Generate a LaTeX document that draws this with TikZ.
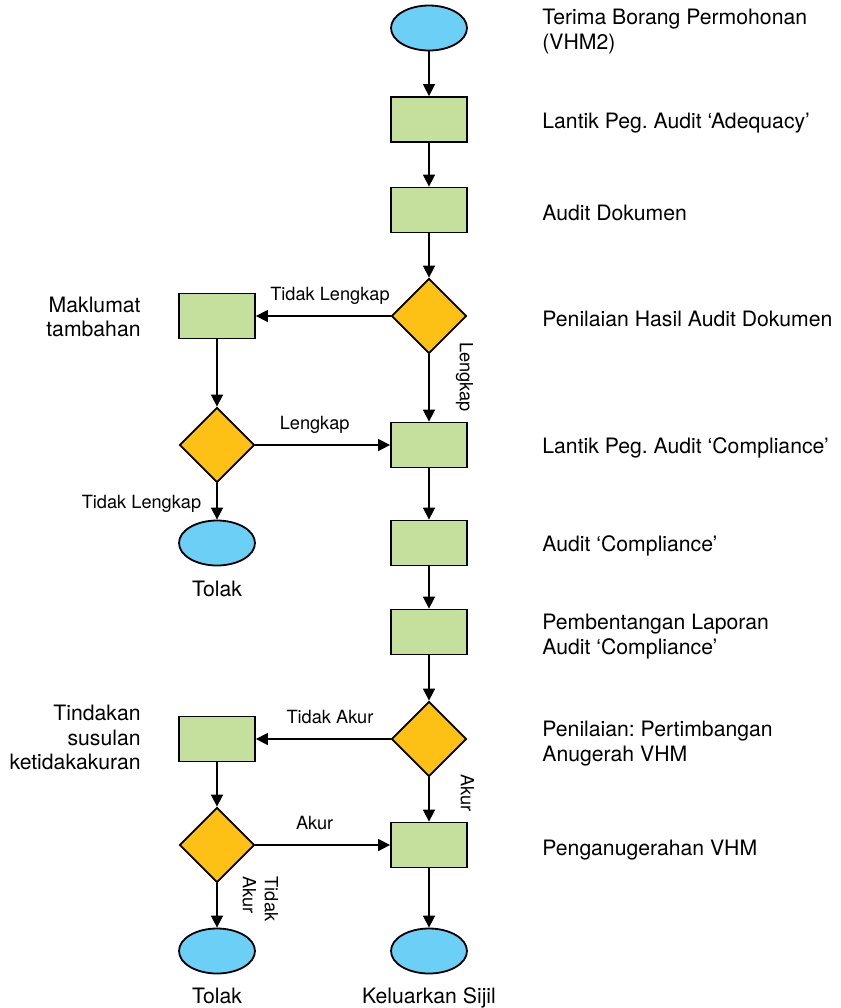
\documentclass[tikz,border=0pt]{standalone}
\usepackage{fontspec}
\setmainfont{TeX Gyre Heros}
\usetikzlibrary{shapes.geometric,arrows.meta,positioning}

\definecolor{birumuda}{HTML}{6CCFF6}
\definecolor{hijaumuda}{HTML}{C5DF9D}
\definecolor{kuning}{HTML}{FDC116}

\tikzset{
  kotak/.style={draw, line width=0.9pt, fill=hijaumuda, minimum width=38pt, minimum height=22.5pt, inner sep=0pt},
  putus/.style={draw, diamond, line width=0.9pt, fill=kuning, minimum width=37.5pt, minimum height=37.5pt, inner sep=0pt},
  bujur/.style={draw, ellipse, line width=0.9pt, fill=birumuda, minimum width=38pt, minimum height=22.5pt, inner sep=0pt},
  teks/.style={font=\fontsize{10.6}{12.25}\selectfont\frenchspacing, inner sep=0pt},
  lbl/.style={font=\fontsize{9.1}{11}\selectfont, inner sep=0pt, text depth=0.25em},
  panah/.style={-{Triangle[length=6pt,width=6pt]}, line width=0.8pt}
}

\begin{document}
\begin{tikzpicture}[x=0.5pt, y=-0.5pt]
\useasboundingbox (0,0) rectangle (841,1008);

% Lajur utama
\node[bujur] (mula) at (429,28) {};
\node[kotak] (lantikA) at (429,119.5) {};
\node[kotak] (auditDok) at (429,210) {};
\node[putus] (nilaiA) at (429,316) {};
\node[kotak] (lantikC) at (429,445) {};
\node[kotak] (auditC) at (429,543) {};
\node[kotak] (bentang) at (429,632) {};
\node[putus] (nilaiB) at (429,739) {};
\node[kotak] (anugerah) at (429,845) {};
\node[bujur] (sijil) at (429,951) {};

% Lajur kiri
\node[kotak] (maklumat) at (217,316) {};
\node[putus] (semakA) at (217,445) {};
\node[bujur] (tolakA) at (217,543) {};
\node[kotak] (tindakan) at (217,739) {};
\node[putus] (semakB) at (217,845) {};
\node[bujur] (tolakB) at (217,951) {};

% Anak panah
\draw[panah] (mula) -- (lantikA);
\draw[panah] (lantikA) -- (auditDok);
\draw[panah] (auditDok) -- (nilaiA);
\draw[panah] (nilaiA) -- node[lbl, pos=0.45, above=5pt] {Tidak Lengkap} (maklumat);
\draw[panah] (nilaiA) -- (lantikC);
\draw[panah] (maklumat) -- (semakA);
\draw[panah] (semakA) -- node[lbl, pos=0.44, above=5pt] {Lengkap} (lantikC);
\draw[panah] (semakA) -- node[lbl, pos=0.59, left=7.5pt] {Tidak Lengkap} (tolakA);
\draw[panah] (lantikC) -- (auditC);
\draw[panah] (auditC) -- (bentang);
\draw[panah] (bentang) -- (nilaiB);
\draw[panah] (nilaiB) -- node[lbl, pos=0.45, above=5pt] {Tidak Akur} (tindakan);
\draw[panah] (nilaiB) -- (anugerah);
\draw[panah] (tindakan) -- (semakB);
\draw[panah] (semakB) -- node[lbl, pos=0.44, above=5pt] {Akur} (anugerah);
\draw[panah] (semakB) -- (tolakB);
\draw[panah] (anugerah) -- (sijil);

% Label menegak
\node[lbl, rotate=-90] (lLengkap) at (464,377) {Lengkap};
\node[lbl, rotate=-90] (lAkur) at (465,793) {Akur};
\node[lbl, rotate=-90, align=left] (lTidakAkur) at (258,899) {Tidak\\Akur};

% Keterangan kanan
\node[teks, anchor=west, align=left] (tTerima) at (542,31.7) {Terima Borang Permohonan\\(VHM2)};
\node[teks, anchor=base west] (tLantikA) at (542,128) {Lantik Peg. Audit ‘Adequacy’};
\node[teks, anchor=base west] (tAuditDok) at (542,220) {Audit Dokumen};
\node[teks, anchor=base west] (tNilaiA) at (542,326) {Penilaian Hasil Audit Dokumen};
\node[teks, anchor=base west] (tLantikC) at (542,453) {Lantik Peg. Audit ‘Compliance’};
\node[teks, anchor=base west] (tAuditC) at (542,551) {Audit ‘Compliance’};
\node[teks, anchor=west, align=left] (tBentang) at (542,636.7) {Pembentangan Laporan\\Audit ‘Compliance’};
\node[teks, anchor=west, align=left] (tNilaiB) at (542,743.7) {Penilaian: Pertimbangan\\Anugerah VHM};
\node[teks, anchor=base west] (tAnugerah) at (542,855) {Penganugerahan VHM};

% Keterangan kiri dan bawah
\node[teks, anchor=east, align=right] (tMaklumat) at (141,317) {Maklumat\\tambahan};
\node[teks, anchor=east, align=right] (tTindakan) at (141,737.5) {Tindakan\\susulan\\ketidakakuran};
\node[teks, anchor=base] (tTolakA) at (217,596) {Tolak};
\node[teks, anchor=base] (tTolakB) at (217,1003) {Tolak};
\node[teks, anchor=base] (tSijil) at (429,1003) {Keluarkan Sijil};
\end{tikzpicture}
\end{document}
